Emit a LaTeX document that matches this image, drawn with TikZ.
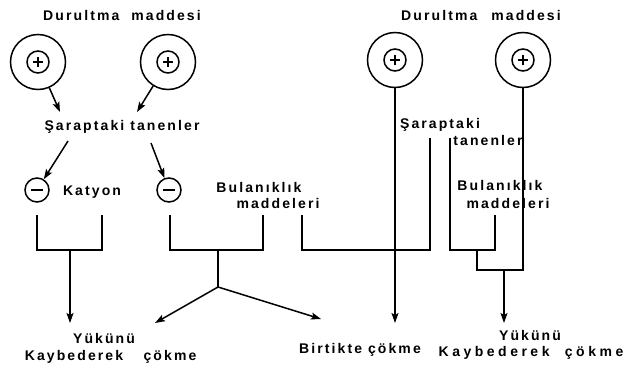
\documentclass[tikz,border=0pt]{standalone}
\usepackage{fontspec}
\setmainfont{Liberation Sans}[LetterSpace=15]
\usetikzlibrary{arrows.meta}
\tikzset{
  txt/.style={inner sep=0pt, font=\fontsize{14}{15}\bfseries\selectfont},
  ln/.style={line width=1.5pt, line join=miter},
  arr/.style={ln, -{Stealth[length=10pt,width=7pt,inset=2pt]}},
  outerc/.style={circle, draw, line width=1.5pt, minimum size=55pt, inner sep=0pt},
  innerc/.style={circle, draw, line width=1.5pt, minimum size=22pt, inner sep=0pt},
  minusc/.style={circle, draw, line width=1.5pt, minimum size=24pt, inner sep=0pt},
}
\newcommand{\plussign}[1]{\draw[line width=1.5pt] (#1.center) +(-5,0) -- +(5,0) +(0,-5) -- +(0,5);}
\newcommand{\minussign}[1]{\draw[line width=1.5pt] (#1.center) +(-6,0) -- +(6,0);}
\begin{document}
\begin{tikzpicture}[x=1pt,y=-1pt]
\useasboundingbox (0,0) rectangle (627,370);
% titles
\node[txt] (dur1) at (122,15) {Durultma\hspace{6pt} maddesi};
\node[txt] (dur2) at (481,15) {Durultma\hspace{8pt} maddesi};
% circles
\node[outerc] (c1) at (38,62) {};
\node[innerc] (i1) at (38,62) {};
\node[outerc] (c2) at (168,62) {};
\node[innerc] (i2) at (168,62) {};
\node[outerc] (c3) at (395,60) {};
\node[innerc] (i3) at (395,60) {};
\node[outerc] (c4) at (523,60) {};
\node[innerc] (i4) at (523,60) {};
\plussign{i1}\plussign{i2}\plussign{i3}\plussign{i4}
% left part
\node[txt] (sar1) at (122,127) {Şaraptaki tanenler};
\coordinate (t1) at (60,112);
\coordinate (t2) at (137,112);
\draw[arr] (c1) -- (t1);
\draw[arr] (c2) -- (t2);
\node[minusc] (m1) at (37,190) {};
\node[minusc] (m2) at (169,190) {};
\minussign{m1}\minussign{m2}
\coordinate (s1) at (68,141);
\coordinate (s2) at (151,143);
\draw[arr] (s1) -- (m1);
\draw[arr] (s2) -- (m2);
\node[txt] (kat) at (92,192) {Katyon};
\node[txt] (bul1a) at (259,187) {Bulanıklık};
\node[txt] (bul1b) at (278,203) {maddeleri};
% bracket 1
\coordinate (b1l) at (37,215);
\coordinate (b1r) at (102,215);
\coordinate (b1m) at (70,250);
\coordinate (a1) at (70,323);
\draw[ln] (b1l) |- (b1m) -| (b1r);
\draw[arr] (b1m) -- (a1);
% bracket 2 and fork
\coordinate (b2l) at (170,215);
\coordinate (b2r) at (263,215);
\coordinate (b2m) at (218,250);
\coordinate (f) at (218,287);
\coordinate (a2l) at (155,323);
\coordinate (a2r) at (321,319);
\draw[ln] (b2l) |- (b2m) -| (b2r);
\draw[ln] (b2m) -- (f);
\draw[arr] (f) -- (a2l);
\draw[arr] (f) -- (a2r);
\node[txt] (yuk1) at (104,338) {Yükünü};
\node[txt] (kay1) at (74,357) {Kaybederek};
\node[txt] (cok1) at (170,357) {çökme};
% right part
\node[txt] (sar2a) at (440,125) {Şaraptaki};
\node[txt] (sar2b) at (488,140) {tanenler};
\node[txt] (bul2a) at (500,185) {Bulanıklık};
\node[txt] (bul2b) at (508,203) {maddeleri};
% bracket 3
\coordinate (b3l) at (302,215);
\coordinate (b3c) at (430,250);
\coordinate (b3r) at (430,138);
\draw[ln] (b3l) |- (b3c) -- (b3r);
% vertical from c3
\coordinate (a3) at (395,323);
\draw[arr] (c3) -- (a3);
\node[txt] (bir) at (360,350) {Birtikte çökme};
% bracket 4
\coordinate (b4l) at (450,138);
\coordinate (b4r) at (495,215);
\coordinate (b4m) at (477,250);
\coordinate (j) at (504,270);
\coordinate (a4) at (504,323);
\draw[ln] (b4l) |- (b4m) -| (b4r);
\draw[ln] (b4m) |- (j) -| (c4.south);
\draw[arr] (j) -- (a4);
\node[txt] (yuk2) at (530,335) {Yükünü};
\node[txt] (kay2) at (531,353) {\addfontfeature{LetterSpace=25}Kaybederek\hspace{8pt} çökme};
\end{tikzpicture}
\end{document}
